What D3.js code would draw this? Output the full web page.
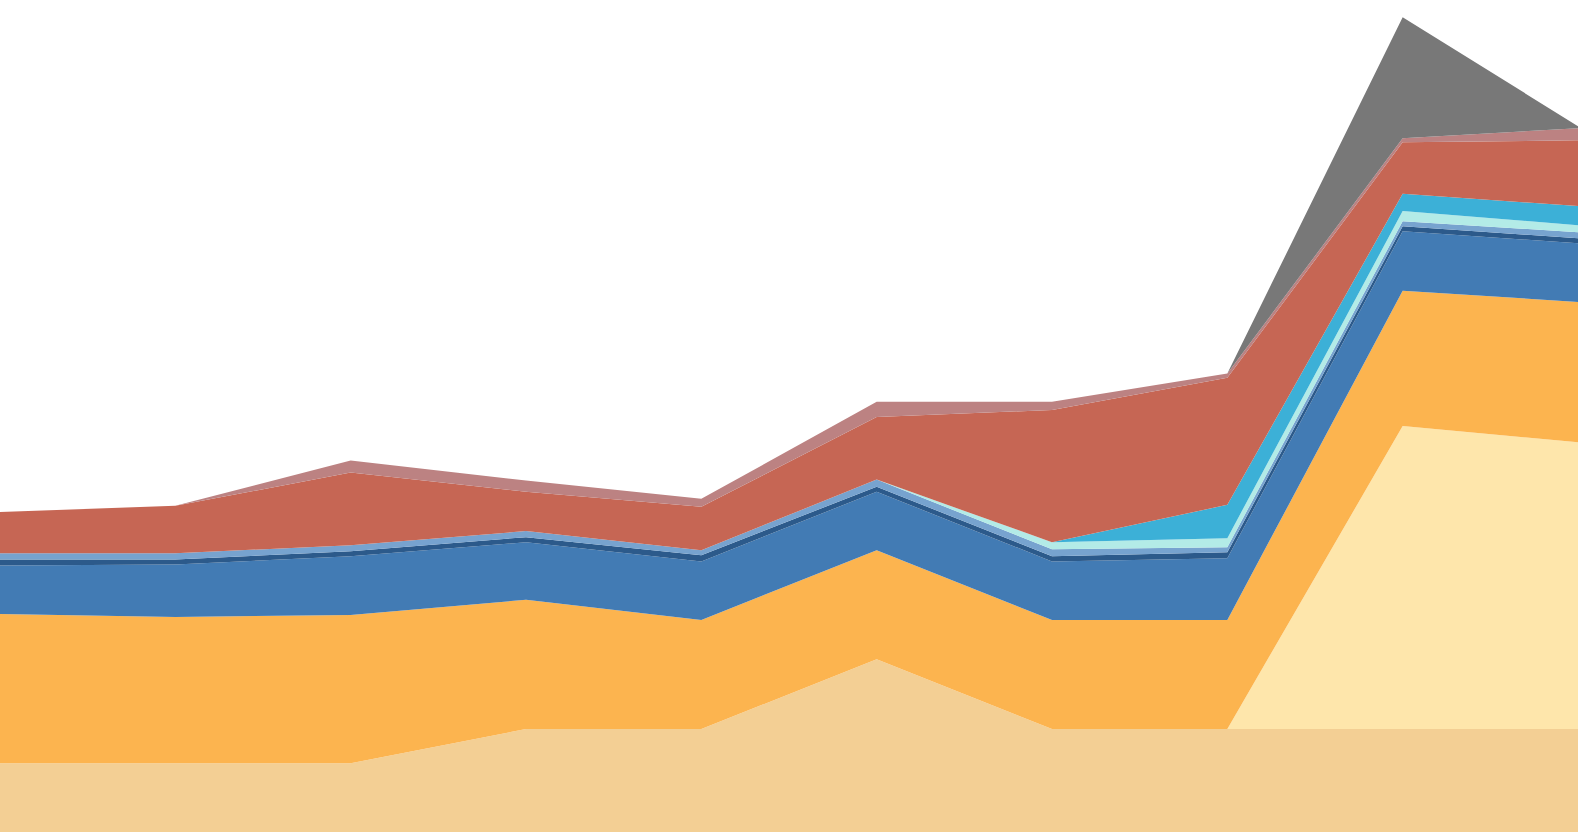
<!DOCTYPE html>
<html>
<head>
<meta charset="utf-8">
<script src="https://cdn.jsdelivr.net/npm/d3@7"></script>
<style>
  html, body { margin: 0; padding: 0; background: #ffffff; overflow: hidden; }
  svg { display: block; }
</style>
</head>
<body>
<svg id="chart"></svg>
<script>
// ---- data ----
const categories = ["P1", "P2", "P3", "P4", "P5", "P6", "P7", "P8", "P9", "P10"];

const seriesNames = ["S1", "S2", "S3", "S4", "S5", "S6", "S7", "S8", "S9", "S10", "S11"];

const s1  = [68, 68, 68, 102, 102, 171, 102, 102, 102, 102];
const s2  = [0, 0, 0, 0, 0, 0, 0, 0, 300, 284];
const s3  = [148, 145, 147, 128, 108, 108, 108, 108, 134, 139];
const s4  = [48, 52, 58, 57, 58, 58, 58, 61, 59, 58];
const s5  = [6, 5, 5, 5, 6, 5, 5, 6, 5, 5];
const s6  = [6, 6, 6, 6, 5, 7, 7, 5, 5, 6];
const s7  = [0, 0, 0, 0, 0, 0, 7, 9, 10, 7];
const s8  = [0, 0, 0, 0, 0, 0, 0, 33, 17, 19];
const s9  = [41, 47, 72, 39, 43, 62, 131, 126, 51, 65];
const s10 = [0, 0, 12, 11, 8, 15, 8, 4, 4, 12];
const s11 = [0, 0, 0, 0, 0, 0, 0, 0, 120, 2];

const seriesValues = [s1, s2, s3, s4, s5, s6, s7, s8, s9, s10, s11];

const colors = ["#f3cf94", "#fee6ab", "#fcb44f", "#427bb4", "#2c5a8b", "#77a3cf",
                "#b3ebe7", "#3cb0d7", "#c66654", "#bc8282", "#787878"];

const yMax = 824;

// ---- chart ----
const W = 1584, H = 832;
const plotRight = 1578;
const svg = d3.select("#chart").attr("width", W).attr("height", H);

const rows = categories.map((c, i) => {
  const r = { cat: c };
  seriesNames.forEach((s, k) => { r[s] = seriesValues[k][i]; });
  return r;
});

const stacked = d3.stack().keys(seriesNames)(rows);

const x = d3.scalePoint().domain(categories).range([0, plotRight]);
const y = d3.scaleLinear().domain([0, yMax]).range([H, 0]);
const color = d3.scaleOrdinal().domain(seriesNames).range(colors);

const area = d3.area()
  .x(d => x(d.data.cat))
  .y0(d => y(d[0]))
  .y1(d => y(d[1]))
  .curve(d3.curveLinear);

svg.append("g")
  .selectAll("path")
  .data(stacked)
  .join("path")
  .attr("d", area)
  .attr("fill", d => color(d.key));
</script>
</body>
</html>
